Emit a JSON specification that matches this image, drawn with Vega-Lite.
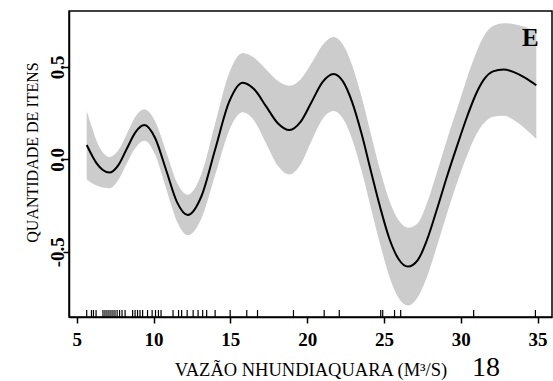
{
  "$schema": "https://vega.github.io/schema/vega-lite/v6.json",
  "width": 483,
  "height": 306,
  "autosize": {"type": "none"},
  "padding": {"left": 69, "top": 11, "right": 1, "bottom": 64},
  "background": "white",
  "config": {
    "view": {"stroke": "black", "strokeWidth": 1.5},
    "font": "Liberation Serif, Times New Roman, serif"
  },
  "title": {
    "text": "18",
    "orient": "bottom",
    "anchor": "end",
    "frame": "group",
    "fontSize": 28,
    "fontWeight": "normal",
    "font": "Liberation Serif, Times New Roman, serif",
    "color": "black",
    "baseline": "alphabetic",
    "dx": -52,
    "offset": -3
  },
  "datasets": {
    "fit": [
      {"x": 5.65, "fit": 0.077, "lo": -0.108, "hi": 0.262},
      {"x": 6.0, "fit": 0.02, "lo": -0.13, "hi": 0.17},
      {"x": 6.3, "fit": -0.022, "lo": -0.142, "hi": 0.098},
      {"x": 6.7, "fit": -0.058, "lo": -0.153, "hi": 0.037},
      {"x": 7.12, "fit": -0.072, "lo": -0.157, "hi": 0.013},
      {"x": 7.69, "fit": -0.034, "lo": -0.114, "hi": 0.046},
      {"x": 8.26, "fit": 0.057, "lo": -0.023, "hi": 0.137},
      {"x": 8.83, "fit": 0.147, "lo": 0.062, "hi": 0.232},
      {"x": 9.4, "fit": 0.185, "lo": 0.1, "hi": 0.27},
      {"x": 10.11, "fit": 0.114, "lo": 0.024, "hi": 0.204},
      {"x": 10.82, "fit": -0.058, "lo": -0.158, "hi": 0.042},
      {"x": 11.52, "fit": -0.23, "lo": -0.335, "hi": -0.125},
      {"x": 12.23, "fit": -0.301, "lo": -0.411, "hi": -0.191},
      {"x": 13.13, "fit": -0.197, "lo": -0.317, "hi": -0.077},
      {"x": 14.02, "fit": 0.056, "lo": -0.084, "hi": 0.196},
      {"x": 14.92, "fit": 0.31, "lo": 0.155, "hi": 0.465},
      {"x": 15.81, "fit": 0.414, "lo": 0.254, "hi": 0.574},
      {"x": 16.57, "fit": 0.377, "lo": 0.207, "hi": 0.547},
      {"x": 17.33, "fit": 0.286, "lo": 0.086, "hi": 0.486},
      {"x": 18.09, "fit": 0.195, "lo": -0.035, "hi": 0.425},
      {"x": 18.85, "fit": 0.158, "lo": -0.082, "hi": 0.398},
      {"x": 19.57, "fit": 0.202, "lo": -0.028, "hi": 0.432},
      {"x": 20.29, "fit": 0.31, "lo": 0.1, "hi": 0.52},
      {"x": 21.0, "fit": 0.417, "lo": 0.217, "hi": 0.617},
      {"x": 21.72, "fit": 0.461, "lo": 0.261, "hi": 0.661},
      {"x": 22.33, "fit": 0.421, "lo": 0.221, "hi": 0.621},
      {"x": 22.93, "fit": 0.309, "lo": 0.109, "hi": 0.509},
      {"x": 23.54, "fit": 0.139, "lo": -0.061, "hi": 0.339},
      {"x": 24.14, "fit": -0.06, "lo": -0.26, "hi": 0.14},
      {"x": 24.75, "fit": -0.258, "lo": -0.458, "hi": -0.058},
      {"x": 25.35, "fit": -0.428, "lo": -0.633, "hi": -0.223},
      {"x": 25.96, "fit": -0.54, "lo": -0.75, "hi": -0.33},
      {"x": 26.56, "fit": -0.58, "lo": -0.79, "hi": -0.37},
      {"x": 27.2, "fit": -0.545, "lo": -0.745, "hi": -0.345},
      {"x": 27.8, "fit": -0.436, "lo": -0.636, "hi": -0.236},
      {"x": 28.45, "fit": -0.27, "lo": -0.47, "hi": -0.07},
      {"x": 29.1, "fit": -0.094, "lo": -0.294, "hi": 0.106},
      {"x": 29.75, "fit": 0.07, "lo": -0.13, "hi": 0.27},
      {"x": 30.41, "fit": 0.23, "lo": 0.02, "hi": 0.44},
      {"x": 30.95, "fit": 0.345, "lo": 0.125, "hi": 0.565},
      {"x": 31.49, "fit": 0.429, "lo": 0.194, "hi": 0.664},
      {"x": 32.1, "fit": 0.475, "lo": 0.23, "hi": 0.72},
      {"x": 32.79, "fit": 0.486, "lo": 0.236, "hi": 0.736},
      {"x": 33.5, "fit": 0.47, "lo": 0.21, "hi": 0.73},
      {"x": 34.2, "fit": 0.44, "lo": 0.165, "hi": 0.715},
      {"x": 34.92, "fit": 0.4, "lo": 0.11, "hi": 0.69}
    ],
    "rug": [
      {"x": 5.65}, {"x": 5.96}, {"x": 6.09}, {"x": 6.26}, {"x": 6.71}, {"x": 6.84},
      {"x": 6.97}, {"x": 7.1}, {"x": 7.23}, {"x": 7.36}, {"x": 7.49}, {"x": 7.63},
      {"x": 7.79}, {"x": 7.95}, {"x": 8.15}, {"x": 8.64}, {"x": 8.8}, {"x": 8.96},
      {"x": 9.12}, {"x": 9.29}, {"x": 9.61}, {"x": 9.91}, {"x": 10.13}, {"x": 10.32},
      {"x": 10.49}, {"x": 11.27}, {"x": 11.63}, {"x": 11.83}, {"x": 12.19}, {"x": 12.58},
      {"x": 12.9}, {"x": 13.2}, {"x": 13.46}, {"x": 14.01}, {"x": 14.99}, {"x": 16.07},
      {"x": 16.77}, {"x": 19.11}, {"x": 21.11}, {"x": 22.09}, {"x": 24.79}, {"x": 24.92},
      {"x": 25.69}, {"x": 26.09}, {"x": 30.84}, {"x": 34.86}
    ]
  },
  "layer": [
    {
      "data": {"name": "fit"},
      "mark": {"type": "area", "interpolate": "monotone", "color": "#cccccc", "opacity": 1},
      "encoding": {
        "x": {
          "field": "x", "type": "quantitative",
          "scale": {"domain": [4.498, 35.94], "nice": false, "zero": false},
          "axis": {
            "values": [5, 10, 15, 20, 25, 30, 35],
            "title": "VAZÃO NHUNDIAQUARA (M³/S)",
            "titleFont": "Liberation Serif, Times New Roman, serif",
            "titleFontSize": 18.5,
            "titleFontWeight": "normal",
            "titleColor": "black",
            "titleBaseline": "alphabetic",
            "titleY": 58,
            "labelFont": "Liberation Serif, Times New Roman, serif",
            "labelFontSize": 19,
            "labelFontWeight": "bold",
            "labelColor": "black",
            "labelPadding": 7,
            "labelFlush": false,
            "labelOverlap": false,
            "tickSize": 6,
            "tickWidth": 1.5,
            "tickColor": "black",
            "domainColor": "black",
            "domainWidth": 1.5,
            "grid": false
          }
        },
        "y": {
          "field": "lo", "type": "quantitative",
          "scale": {"domain": [-0.8524, 0.8016], "nice": false, "zero": false},
          "axis": {
            "values": [-0.5, 0, 0.5],
            "labelExpr": "replace(format(datum.value, '.1f'), '\u2212', '-')",
            "title": "QUANTIDADE DE ITENS",
            "titleFont": "Liberation Serif, Times New Roman, serif",
            "titleFontSize": 16,
            "titleFontWeight": "normal",
            "titleColor": "black",
            "titleAngle": -90,
            "titleAlign": "center",
            "titleBaseline": "alphabetic",
            "titleX": -32,
            "titleY": 141,
            "labelFont": "Liberation Serif, Times New Roman, serif",
            "labelFontSize": 19,
            "labelFontWeight": "bold",
            "labelColor": "black",
            "labelAngle": -90,
            "labelAlign": "center",
            "labelBaseline": "alphabetic",
            "labelPadding": 0,
            "labelFlush": false,
            "labelOverlap": false,
            "tickSize": 6,
            "tickWidth": 1.5,
            "tickColor": "black",
            "domainColor": "black",
            "domainWidth": 1.5,
            "grid": false
          }
        },
        "y2": {"field": "hi"}
      }
    },
    {
      "data": {"name": "fit"},
      "mark": {"type": "line", "interpolate": "monotone", "color": "black", "strokeWidth": 2},
      "encoding": {
        "x": {"field": "x", "type": "quantitative"},
        "y": {"field": "fit", "type": "quantitative"}
      }
    },
    {
      "data": {"name": "rug"},
      "mark": {"type": "rule", "color": "black", "strokeWidth": 1.2},
      "encoding": {
        "x": {"field": "x", "type": "quantitative"},
        "y": {"datum": -0.8524},
        "y2": {"datum": -0.8146}
      }
    },
    {
      "data": {"values": [{"label": "E"}]},
      "mark": {"type": "text", "font": "Liberation Serif, Times New Roman, serif", "fontSize": 25, "fontWeight": "bold", "color": "black", "align": "center", "baseline": "alphabetic"},
      "encoding": {
        "text": {"field": "label"},
        "x": {"datum": 34.53},
        "y": {"datum": 0.612}
      }
    }
  ]
}
